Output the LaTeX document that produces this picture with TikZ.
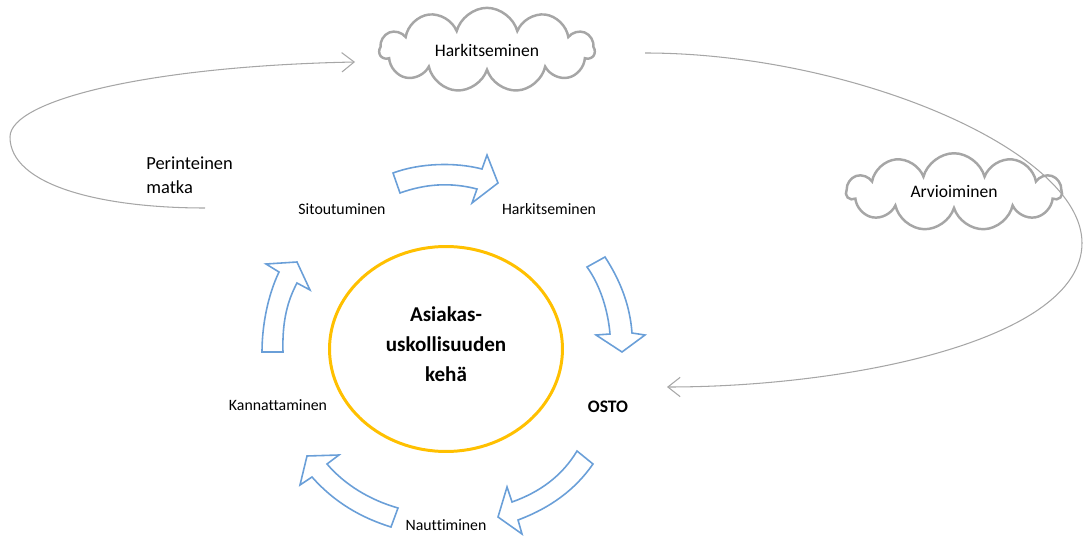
\documentclass[tikz,border=0pt]{standalone}
\usepackage{fontspec}
\setmainfont{Carlito}[Ligatures=NoCommon]
\usepackage{xcolor}
\definecolor{Ring}{HTML}{FFC000}
\definecolor{Flow}{HTML}{6A9FD8}
\definecolor{Trail}{HTML}{A6A6A6}
\definecolor{Puff}{HTML}{A6A6A6}
\usetikzlibrary{shapes.geometric, shapes.symbols, arrows.meta}

\begin{document}
\begin{tikzpicture}[x=0.02cm, y=-0.02cm, >={Straight Barb[length=7pt,width=11pt]},
  thought/.style={cloud, cloud puffs=11, aspect=2.7, draw=Puff, line width=1.4pt,
                  minimum width=4.3cm, minimum height=1.55cm, inner sep=0pt,
                  font=\fontsize{10}{12}\selectfont},
  stage/.style={font=\fontsize{9}{11}\selectfont, inner sep=1pt},
  core/.style={ellipse, draw=Ring, line width=1.7pt, minimum width=4.66cm,
               minimum height=4.1cm, align=center, text depth=5.5pt,
               font=\fontsize{12}{17}\selectfont\bfseries},
  trail/.style={->, draw=Trail, line width=0.6pt},
  flow/.style={draw=Flow, line width=0.9pt, line join=miter, fill=white}
]
\useasboundingbox (0,0) rectangle (1083,537);

%% ---- Clouds and the core ----
\node[thought] (wolk1) at (487,50)  {Harkitseminen};
\node[thought] (wolk2) at (954,192) {Arvioiminen};
\node[core]    (core)  at (446,349) {Asiakas-\\uskollisuuden\\kehä};

%% ---- Stage labels round the core ----
\node[stage] (sitoutuminen)  at (342,209) {Sitoutuminen};
\node[stage] (harkinta)      at (549,209) {Harkitseminen};
\node[stage, font=\fontsize{10}{12}\selectfont\bfseries] (osto) at (608,407) {OSTO};
\node[stage] (kannattaminen) at (278,405) {Kannattaminen};
\node[stage] (nauttiminen)   at (446,525) {Nauttiminen};
\node[anchor=west, align=left, inner sep=0pt, font=\fontsize{10.5}{13.5}\selectfont]
  (perinteinen) at (146,175) {Perinteinen\\matka};

%% ---- Traditional journey (grey loops) ----
\coordinate (lahto1) at (205,208);
\coordinate (vasen)  at (10,137);
\coordinate (kaari1) at (355,62);
\draw[trail] (lahto1) .. controls (100,208) and (10,185) .. (vasen)
             .. controls (10,100) and (150,66) .. (kaari1);

\coordinate (lahto2) at (645,53);
\coordinate (oikea)  at (1082,243);
\coordinate (kaari2) at (667,387);
\draw[trail] (lahto2) .. controls (850,53) and (1082,150) .. (oikea)
             .. controls (1082,340) and (850,387) .. (kaari2);

%% ---- Loyalty loop (block arrows) ----
% Sitoutuminen -> Harkitseminen
\draw[flow] (393,173) .. controls (420,163) and (455,162) .. (482,169) -- (487,155)
  -- (498,183) -- (472,203) -- (477,189) .. controls (450,182) and (425,184) .. (400,193) -- cycle;
% Harkitseminen -> OSTO
\draw[flow] (587,267) -- (605,257) .. controls (620,280) and (630,305) .. (632,333)
  -- (645,335) -- (622,352) -- (596,335) -- (610,334) .. controls (608,310) and (600,285) .. (587,267) -- cycle;
% OSTO -> Nauttiminen
\draw[flow] (577,451) -- (593,464) .. controls (575,490) and (550,508) .. (518,520)
  -- (522,534) -- (498,517) -- (507,487) -- (512,502) .. controls (540,492) and (562,476) .. (577,451) -- cycle;
% Nauttiminen -> Kannattaminen
\draw[flow] (391,527) -- (398,508) .. controls (370,500) and (345,485) .. (327,464)
  -- (339,455) -- (307,456) -- (300,485) -- (312,477) .. controls (335,503) and (362,518) .. (391,527) -- cycle;
% Kannattaminen -> Sitoutuminen
\draw[flow] (262,352) -- (283,352) .. controls (282,320) and (288,300) .. (297,283)
  -- (310,290) -- (297,262) -- (266,264) -- (279,272) .. controls (268,295) and (262,325) .. (262,352) -- cycle;

\end{tikzpicture}
\end{document}
